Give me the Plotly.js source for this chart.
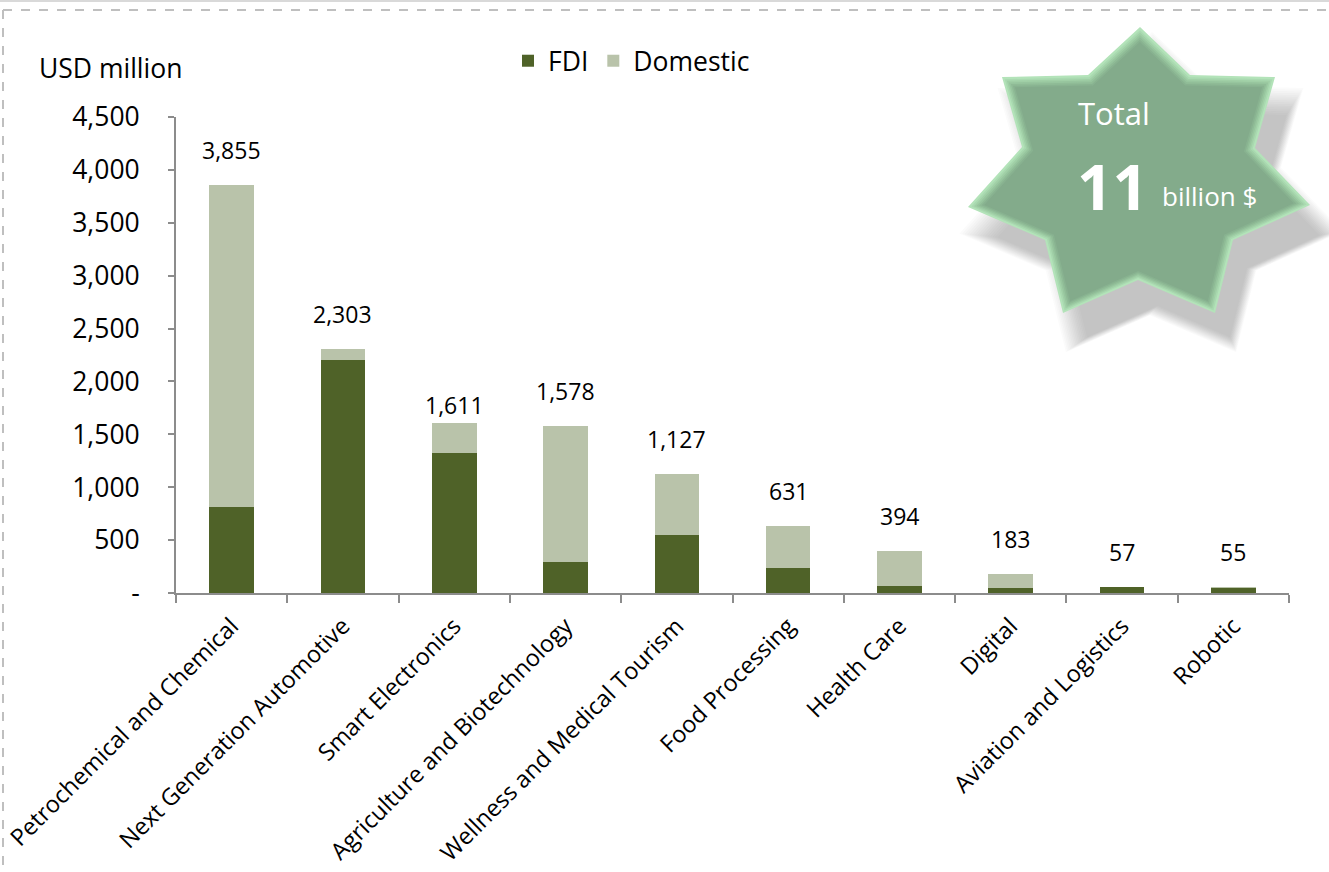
<!DOCTYPE html>
<html>
<head>
<meta charset="utf-8">
<script src="https://cdn.plot.ly/plotly-3.0.1.min.js"></script>
<style>html,body{margin:0;padding:0;background:#fff;}#chart{width:1329px;height:872px;}</style>
</head>
<body>
<div id="chart"></div>
<script>
// ---- data ----
const categories = ["Petrochemical and Chemical","Next Generation Automotive","Smart Electronics","Agriculture and Biotechnology","Wellness and Medical Tourism","Food Processing","Health Care","Digital","Aviation and Logistics","Robotic"];
const fdi      = [813, 2200, 1320, 295, 548, 236, 66, 47, 57, 45];
const domestic = [3042, 103, 291, 1283, 579, 395, 328, 136, 0, 10];
const totals   = [3855, 2303, 1611, 1578, 1127, 631, 394, 183, 57, 55];
const yTickVals = [0, 500, 1000, 1500, 2000, 2500, 3000, 3500, 4000, 4500];
const yTickText = ["-", "500", "1,000", "1,500", "2,000", "2,500", "3,000", "3,500", "4,000", "4,500"];
const seriesNames = ["FDI", "Domestic"];
const totalText = {head: "Total", big: "11", unit: "billion $"};

// ---- layout geometry (pixels) ----
const W = 1329, H = 872;
const L = 176, R = 1289, T = 117, B = 593;
const px = x => (x - L) / (R - L);
const py = y => (B - y) / (B - T);
const FONT = "Open Sans, Noto Sans, sans-serif";
const labelLift = 17;                          // px above stack top
const labelLiftAdjust = {"Smart Electronics": -17};

const starOuter = [[1140,27],[1275,77],[1310,205],[1215,313],[1063,313],[968,207],[1002,77]];
const starInner = [[1190,75],[1255,148],[1233,240],[1138,280],[1045,240],[1022,147],[1088,75]];
const cx = 1139, cy = 186;
function starPts(scale, dx, dy) {
  const pts = [];
  for (let i = 0; i < 7; i++) pts.push(starOuter[i], starInner[i]);
  return pts.map(([x, y]) => [cx + (x - cx) * scale + dx, cy + (y - cy) * scale + dy]);
}
function pathOf(pts) {
  return "M " + pts.map(([x, y]) => px(x).toFixed(5) + "," + py(y).toFixed(5)).join(" L ") + " Z";
}

const shapes = [];
// soft shadow: many faint layers
for (let k = 0; k < 16; k++) {
  const s = 1.12 - k * 0.012;
  const dx = 12 + k * 0.5, dy = 24 + k * 0.5;
  shapes.push({type: "path", xref: "paper", yref: "paper", path: pathOf(starPts(s, dx, dy)), fillcolor: "rgba(90,90,90,0.022)", line: {width: 0}, layer: "above"});
}
// bevel gradient
const bevel = [[1.0, "#b3e3b9"], [0.98, "#a9d9b0"], [0.965, "#a0cfa6"], [0.95, "#97c59e"], [0.935, "#8fbb96"], [0.92, "#88b290"], [0.905, "#83ab8b"]];
bevel.forEach(([s, c]) => {
  shapes.push({type: "path", xref: "paper", yref: "paper", path: pathOf(starPts(s, 0, 0)), fillcolor: c, line: {width: 0}, layer: "above"});
});

// frame
shapes.push({type: "line", xref: "paper", yref: "paper", x0: px(0), x1: px(W), y0: py(1), y1: py(1), line: {color: "#d9d9d9", width: 2}});
shapes.push({type: "line", xref: "paper", yref: "paper", x0: px(3), x1: px(W), y0: py(10), y1: py(10), line: {color: "#bfbfbf", width: 2, dash: "dash"}});
shapes.push({type: "line", xref: "paper", yref: "paper", x0: px(3), x1: px(3), y0: py(10), y1: py(H), line: {color: "#bfbfbf", width: 2, dash: "dash"}});

const annotations = [];
categories.forEach((c, i) => {
  annotations.push({x: c, y: fdi[i] + domestic[i], xref: "x", yref: "y", text: totals[i].toLocaleString("en-US"),
    showarrow: false, yanchor: "bottom", yshift: labelLift + (labelLiftAdjust[c] || 0), font: {family: FONT, size: 23, color: "#000"}});
});
annotations.push({xref: "paper", yref: "paper", x: px(37), y: py(68), xanchor: "left", yanchor: "middle", text: "USD million", showarrow: false, font: {family: FONT, size: 26.5, color: "#000"}});
annotations.push({xref: "paper", yref: "paper", x: px(1114), y: py(113), xanchor: "center", yanchor: "middle", text: totalText.head, showarrow: false, font: {family: FONT, size: 31, color: "#fff"}});
annotations.push({xref: "paper", yref: "paper", x: px(1150), y: py(186), xanchor: "right", yanchor: "middle", text: "<b>" + totalText.big + "</b>", showarrow: false, font: {family: FONT, size: 62, color: "#fff"}});
annotations.push({xref: "paper", yref: "paper", x: px(1160), y: py(196), xanchor: "left", yanchor: "middle", text: totalText.unit, showarrow: false, font: {family: FONT, size: 26, color: "#fff"}});

const traces = [
  {type: "bar", name: seriesNames[0], x: categories, y: fdi, marker: {color: "#4f6228"}, hoverinfo: "skip"},
  {type: "bar", name: seriesNames[1], x: categories, y: domestic, marker: {color: "#b9c3aa"}, hoverinfo: "skip"}
];

const layout = {
  width: W, height: H,
  margin: {l: L, r: W - R, t: T, b: H - B, pad: 0},
  paper_bgcolor: "#ffffff", plot_bgcolor: "#ffffff",
  barmode: "stack", bargap: 0.6,
  font: {family: FONT, color: "#000"},
  showlegend: true,
  legend: {orientation: "h", x: px(508), y: py(61), xanchor: "left", yanchor: "middle", font: {family: FONT, size: 26.5, color: "#000"}, itemwidth: 30, bgcolor: "rgba(0,0,0,0)", traceorder: "normal"},
  xaxis: {type: "category", showgrid: false, zeroline: false, showline: true, linecolor: "#8c8c8c", linewidth: 2,
    ticks: "outside", tickson: "boundaries", ticklen: 8, tickcolor: "#8c8c8c", tickwidth: 2, tickangle: -45,
    ticklabelstandoff: 8,
    tickfont: {family: FONT, size: 23.5, color: "#000"}, fixedrange: true},
  yaxis: {range: [0, 4500], showgrid: false, zeroline: false, showline: true, linecolor: "#8c8c8c", linewidth: 2,
    tickvals: yTickVals, ticktext: yTickText, ticks: "outside", ticklen: 6, tickcolor: "#8c8c8c", tickwidth: 2,
    ticklabelstandoff: 23, tickfont: {family: FONT, size: 26.5, color: "#000"}, fixedrange: true},
  shapes: shapes,
  annotations: annotations
};

Plotly.newPlot("chart", traces, layout, {displayModeBar: false, staticPlot: true});
</script>
</body>
</html>
